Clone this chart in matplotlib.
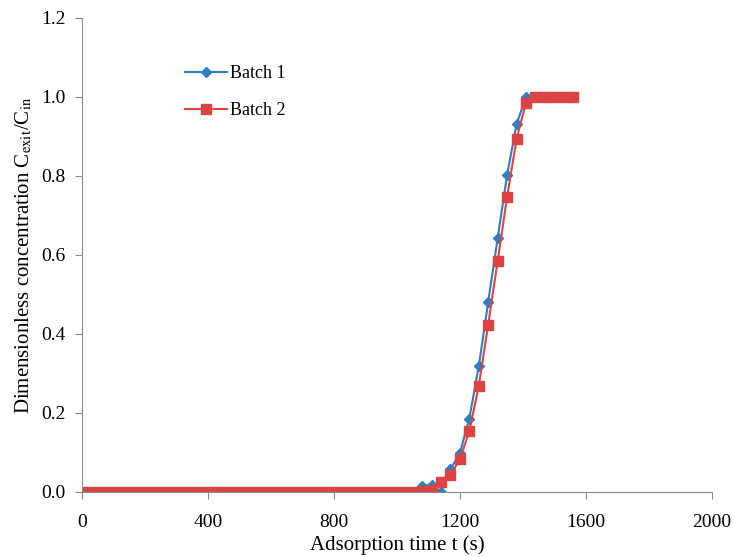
import matplotlib.pyplot as plt

plt.rcParams['font.family'] = ['Liberation Serif', 'DejaVu Serif']
plt.rcParams['mathtext.fontset'] = 'stix'

# adsorption time (s)
time_s = [0, 30, 60, 90, 120, 150, 180, 210, 240, 270, 300, 330, 360, 390,
          420, 450, 480, 510, 540, 570, 600, 630, 660, 690, 720, 750, 780,
          810, 840, 870, 900, 930, 960, 990, 1020, 1050, 1080, 1110, 1140,
          1170, 1200, 1230, 1260, 1290, 1320, 1350, 1380, 1410, 1440, 1470,
          1500, 1530, 1560]

batch1 = [0, 0, 0, 0, 0, 0, 0, 0, 0, 0, 0, 0, 0, 0, 0, 0, 0, 0, 0, 0, 0, 0,
          0, 0, 0, 0, 0, 0, 0, 0, 0, 0, 0, 0, 0, 0,
          0.015, 0.018, 0.0, 0.057, 0.099, 0.186, 0.318, 0.481, 0.642, 0.802,
          0.931, 1.0, 1.0, 1.0, 1.0, 1.0, 1.0]

batch2 = [0, 0, 0, 0, 0, 0, 0, 0, 0, 0, 0, 0, 0, 0, 0, 0, 0, 0, 0, 0, 0, 0,
          0, 0, 0, 0, 0, 0, 0, 0, 0, 0, 0, 0, 0, 0,
          0.003, 0.005, 0.026, 0.043, 0.083, 0.154, 0.268, 0.424, 0.584, 0.747,
          0.893, 0.986, 1.0, 1.0, 1.0, 1.0, 1.0]

fig = plt.figure(figsize=(7.34, 5.57), dpi=100)
ax = fig.add_axes([0.1117, 0.1167, 0.858, 0.851])

ax.plot(time_s, batch1, color='#2f7dc2', marker='D', markersize=5.5,
        linewidth=1.5, label='Batch 1')
ax.plot(time_s, batch2, color='#dc4444', marker='s', markersize=7.5,
        linewidth=1.5, label='Batch 2')

ax.set_xlim(0, 2000)
ax.set_ylim(0, 1.2)
ax.set_xticks([0, 400, 800, 1200, 1600, 2000])
ax.set_yticks([0.0, 0.2, 0.4, 0.6, 0.8, 1.0, 1.2])
ax.set_yticklabels(['0.0', '0.2', '0.4', '0.6', '0.8', '1.0', '1.2'])

for side in ['top', 'right']:
    ax.spines[side].set_visible(False)
for side in ['left', 'bottom']:
    ax.spines[side].set_color('#8c8c8c')
ax.tick_params(axis='both', colors='#8c8c8c', labelcolor='black',
               labelsize=14, length=5, direction='out')
ax.tick_params(axis='x', pad=11)
ax.tick_params(axis='y', pad=7)

ax.set_xlabel('Adsorption time t (s)', fontsize=15, labelpad=3)
ax.set_ylabel('Dimensionless concentration C$_{\\mathrm{exit}}$/C$_{\\mathrm{in}}$',
              fontsize=15, labelpad=5)

ax.legend(loc='upper left', bbox_to_anchor=(0.138, 0.935), frameon=False,
          fontsize=13, handlelength=2.3, labelspacing=1.1, handletextpad=0.2)

fig.savefig('out.png', dpi=100)
